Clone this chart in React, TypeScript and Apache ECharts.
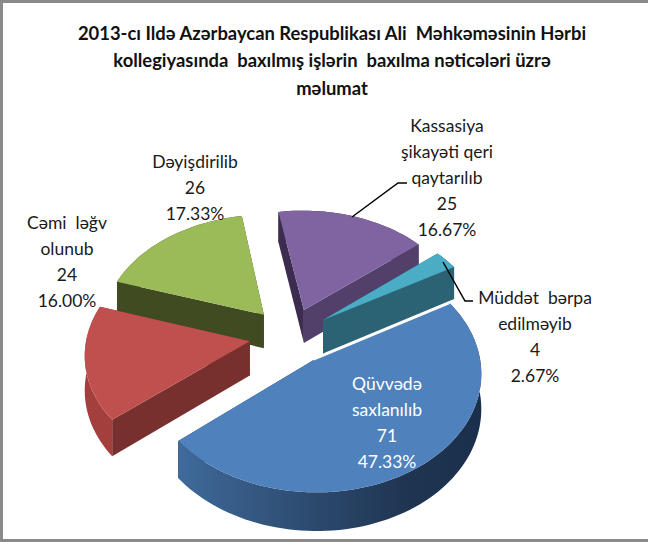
import React, { useEffect, useRef } from "react";
import * as echarts from "echarts";

const titleLines = [
  "2013-cı Ildə Azərbaycan Respublikası Ali  Məhkəməsinin Hərbi",
  "kollegiyasında  baxılmış işlərin  baxılma nəticələri üzrə",
  "məlumat",
];
const names = [
  "Qüvvədə\nsaxlanılıb",
  "Cəmi  ləğv\nolunub",
  "Dəyişdirilib",
  "Kassasiya\nşikayəti qeri\nqaytarılıb",
  "Müddət  bərpa\nedilməyib",
];
const values = [71, 24, 26, 25, 4];
const topColors = ["#4F81BD", "#C0504D", "#9BBB59", "#8064A2", "#4BACC6"];
const wallColors = ["#1F3552", "#77302E", "#404B22", "#523F6A", "#2B6374"];
const rimColors = ["#3D6899", "#A3403E", "#404B22", "#3A2C4E", "#2B6374"];
const backWallColors = ["#1F3552", "#77302E", "#404B22", "#3C2D50", "#2B6374"];
const paintOrder = [3, 2, 4, 1, 0];
const labelCenters = [
  [387, 371],
  [67, 210],
  [195, 149],
  [447, 113],
  [535, 285],
];
const labelColors = ["#ffffff", "#1a1a1a", "#1a1a1a", "#1a1a1a", "#1a1a1a"];
const leaderKassasiya = [[407, 183], [398, 183], [352, 217]];
const leaderMuddet = [[473, 301], [465, 301], [443, 262]];

const total = values.reduce((a, b) => a + b, 0);
const FIRST_ANGLE = 60;
const CX = 290;
const CY = 336;
const R = 163;
const TILT = 0.7;
const PERSP = 0.1;
const DEPTH = 34;
const EXPLODE = 0.25;

function project(x: number, z: number, h: number): number[] {
  const w = 1 / (1 - PERSP * z);
  return [CX + R * x * w, CY + R * TILT * z * w + DEPTH * h * w];
}

function renderSlice(params: any, api: any) {
  const idx = api.value(1);
  let before = 0;
  for (let i = 0; i < idx; i++) before += values[i];
  const a0 = FIRST_ANGLE + (before / total) * 360;
  const a1 = a0 + (api.value(0) / total) * 360;
  const midDeg = (a0 + a1) / 2;
  const mid = (midDeg * Math.PI) / 180;
  const ox = EXPLODE * Math.sin(mid);
  const oz = -EXPLODE * Math.cos(mid);
  const rim = (h: number) => {
    const pts: number[][] = [];
    const n = Math.ceil((a1 - a0) / 2);
    for (let i = 0; i <= n; i++) {
      const a = ((a0 + ((a1 - a0) * i) / n) * Math.PI) / 180;
      pts.push(project(ox + Math.sin(a), oz - Math.cos(a), h));
    }
    return pts;
  };
  const topRim = rim(0);
  const botRim = rim(1);
  const apexT = project(ox, oz, 0);
  const apexB = project(ox, oz, 1);
  const last = topRim.length - 1;
  const rimFill =
    idx === 0
      ? new echarts.graphic.LinearGradient(0, 0, 1, 0, [
          { offset: 0, color: "#3F6A9B" },
          { offset: 0.4, color: "#2E4D72" },
          { offset: 0.75, color: "#1F3552" },
          { offset: 1, color: "#1A2F4C" },
        ])
      : rimColors[idx];
  const poly = (points: number[][], fill: any) => ({
    type: "polygon",
    shape: { points },
    style: { fill, stroke: "none" },
  });
  const rimPoly = poly([...topRim, ...botRim.slice().reverse()], rimFill);
  const startWall = poly([apexT, topRim[0], botRim[0], apexB], backWallColors[idx]);
  const endWall = poly([apexT, topRim[last], botRim[last], apexB], wallColors[idx]);
  const rimFacesViewer = Math.cos(mid) < 0;
  const walls = rimFacesViewer
    ? [startWall, endWall, rimPoly]
    : [rimPoly, endWall, startWall];
  const children: any[] = [...walls, poly([apexT, ...topRim], topColors[idx])];
  if (idx === 0) {
    children.push({
      type: "polyline",
      shape: { points: [topRim[0], apexT] },
      style: { stroke: "#ffffff", lineWidth: 1.5, fill: "none" },
    });
  }
  return { type: "group", children };
}

export default function App() {
  const ref = useRef<HTMLDivElement>(null);
  useEffect(() => {
    document.body.style.margin = "0";
    const chart = echarts.init(ref.current!, null, { renderer: "svg" });
    const labelFont = "Lato";
    const band = "#8a8a8a";
    chart.setOption({
      animation: false,
      backgroundColor: "#ffffff",
      title: {
        text: titleLines.join("\n"),
        left: 327,
        top: 14,
        textAlign: "center",
        textStyle: {
          fontFamily: labelFont,
          fontWeight: "bold",
          fontSize: 18.4,
          lineHeight: 27.5,
          color: "#111111",
        },
      },
      series: [
        {
          type: "custom",
          coordinateSystem: "none",
          silent: true,
          data: paintOrder.map((i) => [values[i], i]),
          renderItem: renderSlice,
        },
      ],
      graphic: [
        { type: "rect", shape: { x: 0, y: 0, width: 648, height: 3 }, style: { fill: band }, z: 10 },
        { type: "rect", shape: { x: 0, y: 0, width: 3, height: 542 }, style: { fill: band }, z: 10 },
        { type: "rect", shape: { x: 0, y: 539, width: 648, height: 3 }, style: { fill: band }, z: 10 },
        { type: "polyline", shape: { points: leaderKassasiya }, style: { stroke: "#000", lineWidth: 1.5, fill: "none" }, z: 20 },
        { type: "polyline", shape: { points: leaderMuddet }, style: { stroke: "#000", lineWidth: 1.5, fill: "none" }, z: 20 },
        ...names.map((n, i) => ({
          type: "text",
          x: labelCenters[i][0],
          y: labelCenters[i][1],
          z: 30,
          style: {
            text: `${n}\n${values[i]}\n${((values[i] / total) * 100).toFixed(2)}%`,
            fontFamily: labelFont,
            fontSize: 17.5,
            lineHeight: 25.8,
            fill: labelColors[i],
            align: "center",
            verticalAlign: "top",
          },
        })),
      ],
    });
    return () => chart.dispose();
  }, []);
  return <div ref={ref} style={{ width: 648, height: 542 }} />;
}
